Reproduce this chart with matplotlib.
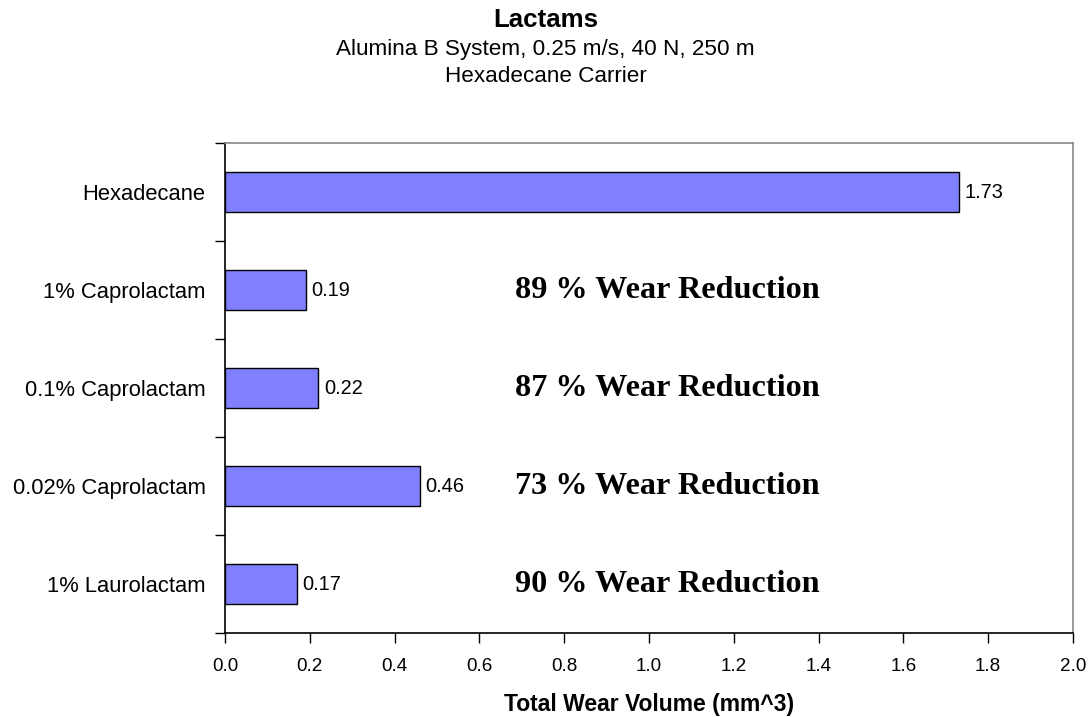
import numpy as np
import matplotlib.pyplot as plt

plt.rcParams['font.family'] = ['Liberation Sans', 'DejaVu Sans']

# data (top to bottom)
labels = ["Hexadecane", "1% Caprolactam", "0.1% Caprolactam", "0.02% Caprolactam", "1% Laurolactam"]
wear = [1.73, 0.19, 0.22, 0.46, 0.17]
reduction = [None, 89, 87, 73, 90]

fig = plt.figure(figsize=(10.91, 7.17), dpi=100)
ax = fig.add_axes([225 / 1091, 1 - 633 / 717, (1073 - 225) / 1091, (633 - 143) / 717])

ypos = np.arange(len(labels))[::-1]
ax.barh(ypos, wear, height=0.41, color="#8080FF", edgecolor="black", linewidth=1.0, zorder=3)

for y, v in zip(ypos, wear):
    ax.annotate(f"{v:.2f}", (v, y), xytext=(4, 0), textcoords="offset points",
                va="center", ha="left", fontsize=14.4)

for y, r in zip(ypos, reduction):
    if r is None:
        continue
    ax.text(0.684, y, f"{r} % Wear Reduction", family=["Liberation Serif", "DejaVu Serif"],
            fontweight="bold", fontsize=23.2, va="center", ha="left")

ax.set_xlim(0, 2.0)
ax.set_ylim(-0.5, len(labels) - 0.5)
ticks = np.arange(0, 2.01, 0.2)
ax.set_xticks(ticks)
ax.set_xticklabels([f"{t:.1f}" for t in ticks], fontsize=13.6)

# category labels without ticks, ticks between categories
ax.set_yticks(ypos)
ax.set_yticklabels(labels, fontsize=15.8)
ax.tick_params(axis="y", length=0, pad=14)
ax.set_yticks(np.arange(-0.5, len(labels), 1.0), minor=True)
ax.tick_params(axis="y", which="minor", length=7, width=1, direction="out")
ax.tick_params(axis="x", length=7, width=1, direction="out", pad=11)

for s in ["top", "right"]:
    ax.spines[s].set_color("#888888")
    ax.spines[s].set_linewidth(1.2)
for s in ["left", "bottom"]:
    ax.spines[s].set_color("black")
    ax.spines[s].set_linewidth(1.2)

ax.set_xlabel("Total Wear Volume (mm^3)", fontsize=16.5, fontweight="bold", labelpad=13)

fig.text(0.5, 1 - 20 / 717, "Lactams", ha="center", va="center", fontsize=18.6, fontweight="bold")
fig.text(0.5, 1 - 49 / 717, "Alumina B System, 0.25 m/s, 40 N, 250 m", ha="center", va="center", fontsize=16.2)
fig.text(0.5, 1 - 76 / 717, "Hexadecane Carrier", ha="center", va="center", fontsize=16.2)

fig.savefig("out.png", dpi=100, facecolor="white")
